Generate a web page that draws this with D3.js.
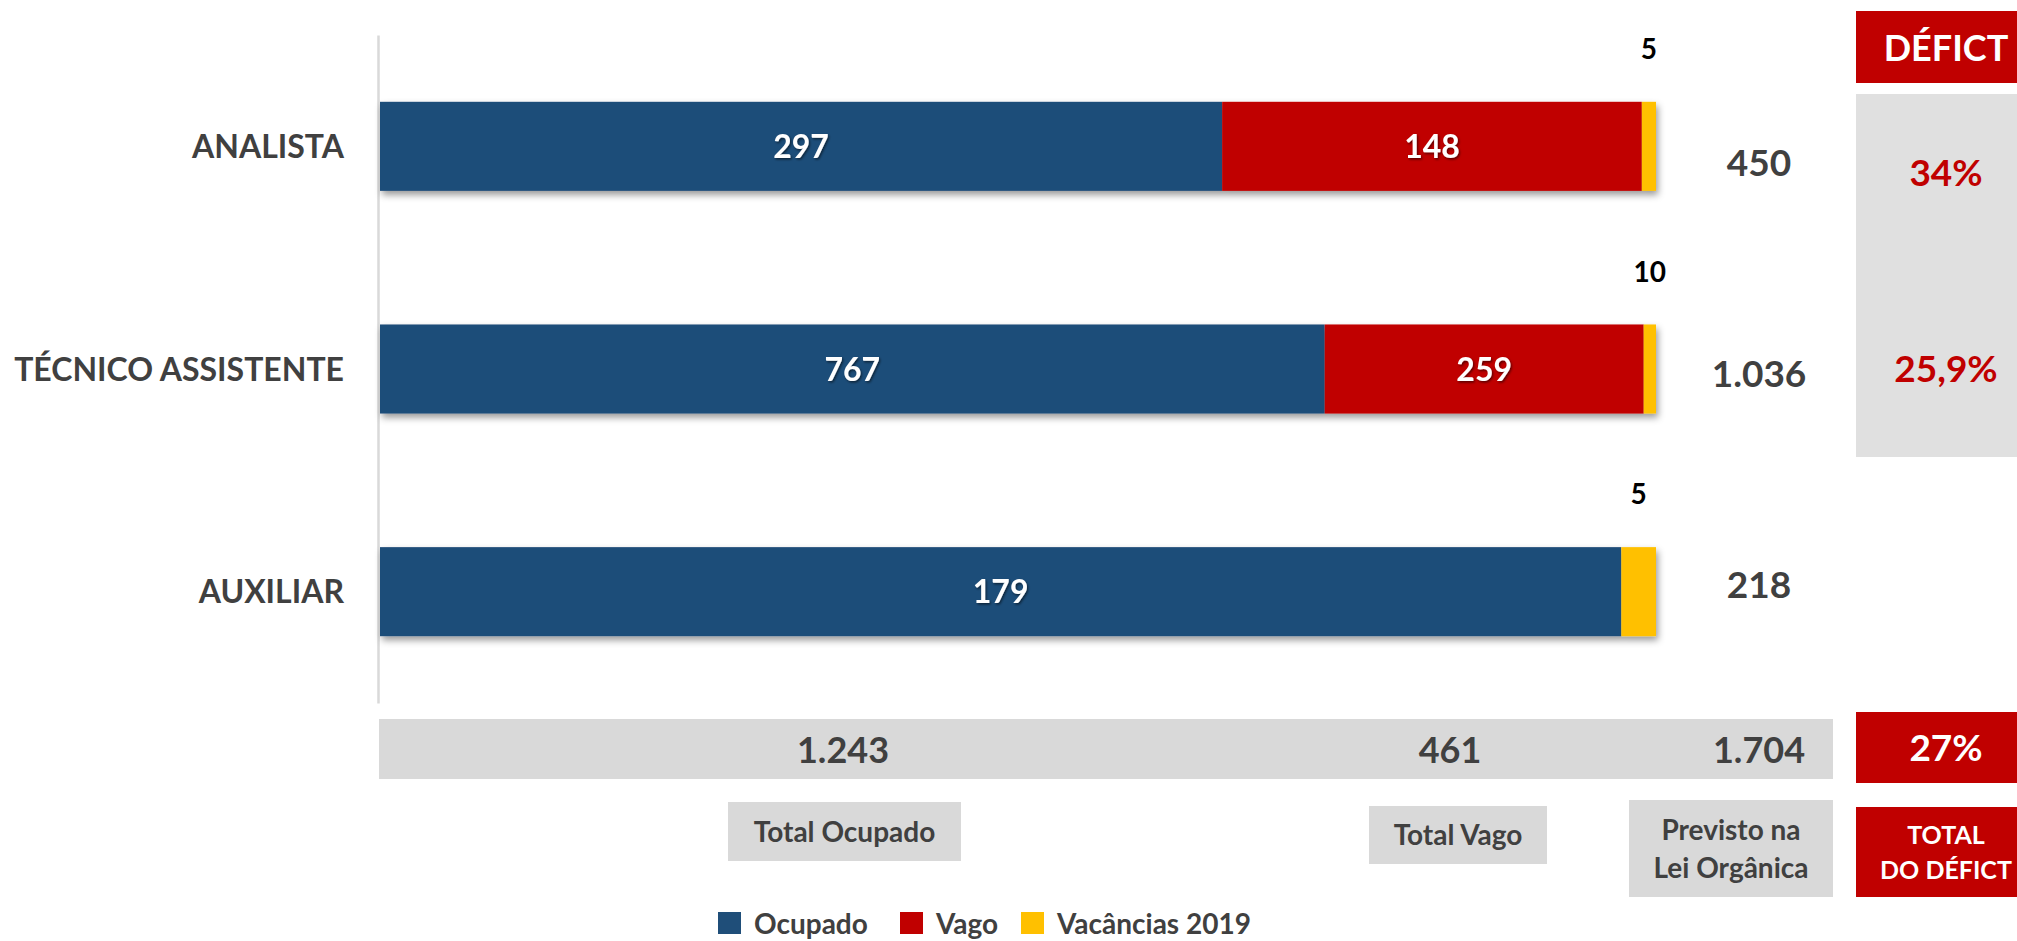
<!DOCTYPE html>
<html><head><meta charset="utf-8">
<script src="https://cdn.jsdelivr.net/npm/d3@7"></script>
<style>
html,body{margin:0;padding:0;background:#fff;}
svg{display:block;font-family:Lato, "Open Sans", sans-serif;font-weight:700;}
</style></head><body>
<svg id="chart" width="2017" height="941"></svg>
<script>
// ---- data ----
const categories = ["ANALISTA", "TÉCNICO ASSISTENTE", "AUXILIAR"];
const seriesNames = ["Ocupado", "Vago", "Vacâncias 2019"];
const ocupado   = [297, 767, 179];
const vago      = [148, 259, 0];
const vacancias = [5, 10, 5];
const previsto  = [450, 1036, 218];
const deficit   = ["34%", "25,9%", null];
const totalLabels = [["Total Ocupado"], ["Total Vago"], ["Previsto na", "Lei Orgânica"]];
const totalValues = [1243, 461, 1704];
const totalDeficit = "27%";
const deficitHeader = "DÉFICT";
const totalDeficitLabel = ["TOTAL", "DO DÉFICT"];
const colors = ["#1F4E79", "#C00000", "#FFC000"];

// ---- setup ----
const svg = d3.select("#chart");
const locale = d3.formatLocale({decimal: ",", thousands: ".", grouping: [3], currency: ["R$", ""]});
const fmt = locale.format(",d");
const textDark = "#404040";

const defs = svg.append("defs");
const barShadow = defs.append("filter").attr("id", "barShadow")
  .attr("x", "-5%").attr("y", "-20%").attr("width", "115%").attr("height", "160%");
barShadow.append("feDropShadow").attr("dx", 2).attr("dy", 4).attr("stdDeviation", 3.5)
  .attr("flood-color", "#000").attr("flood-opacity", 0.4);
const txtShadow = defs.append("filter").attr("id", "txtShadow")
  .attr("x", "-20%").attr("y", "-20%").attr("width", "140%").attr("height", "140%");
txtShadow.append("feDropShadow").attr("dx", 1.2).attr("dy", 1.5).attr("stdDeviation", 1)
  .attr("flood-color", "#000").attr("flood-opacity", 0.55);

const rows = categories.map((c, i) => ({cat: c, [seriesNames[0]]: ocupado[i], [seriesNames[1]]: vago[i], [seriesNames[2]]: vacancias[i]}));
const stacked = d3.stack().keys(seriesNames).offset(d3.stackOffsetExpand)(rows);

const x = d3.scaleLinear().domain([0, 1]).range([380, 1656]);
const y = d3.scaleBand().domain(categories).range([35, 703]).paddingInner(0.6).paddingOuter(0.3);
const yRight = d3.scalePoint().domain(categories).range([163, 585]);
const yDef = d3.scalePoint().domain(categories.slice(0, 2)).range([173, 369]);

// ---- axis ----
const axis = svg.append("g").attr("transform", `translate(${378},0)`)
  .call(d3.axisLeft(y).tickSize(0).tickPadding(34).tickSizeOuter(0));
axis.select(".domain").attr("stroke", "#D9D9D9").attr("stroke-width", 2.5);
axis.selectAll(".tick text").attr("font-size", 32).attr("font-weight", 700)
  .attr("fill", textDark).attr("font-family", "Lato, sans-serif").attr("dy", "0.36em");

// ---- bars ----
const barGroups = svg.append("g").selectAll("g.bar").data(categories).join("g")
  .attr("class", "bar").attr("filter", "url(#barShadow)");
barGroups.each(function(cat, i) {
  const g = d3.select(this);
  stacked.forEach((s, k) => {
    const seg = s[i];
    if (seg[1] - seg[0] <= 0) return;
    g.append("rect").attr("x", x(seg[0])).attr("y", y(cat))
      .attr("width", x(seg[1]) - x(seg[0])).attr("height", y.bandwidth())
      .attr("fill", colors[k]);
  });
});

// segment labels
const labels = svg.append("g");
stacked.forEach((s, k) => {
  s.forEach((seg, i) => {
    const v = seg.data[s.key];
    if (!v) return;
    const cx = (x(seg[0]) + x(seg[1])) / 2;
    if (k < 2) {
      labels.append("text").attr("x", cx).attr("y", y(categories[i]) + y.bandwidth() / 2)
        .attr("dy", "0.36em").attr("text-anchor", "middle").attr("font-size", 32)
        .attr("fill", "#fff").attr("filter", "url(#txtShadow)").text(fmt(v));
    } else {
      labels.append("text").attr("x", cx).attr("y", y(categories[i]) - 53)
        .attr("dy", "0.36em").attr("text-anchor", "middle").attr("font-size", 28)
        .attr("fill", "#000").text(fmt(v));
    }
  });
});

// totals column
svg.append("g").selectAll("text").data(categories).join("text")
  .attr("x", 1759).attr("y", d => yRight(d)).attr("dy", "0.36em")
  .attr("text-anchor", "middle").attr("font-size", 37).attr("fill", textDark)
  .text((d, i) => fmt(previsto[i]));

// deficit column
svg.append("rect").attr("x", 1856).attr("y", 11).attr("width", 180).attr("height", 72).attr("fill", "#C00000");
svg.append("text").attr("x", 1946).attr("y", 48).attr("dy", "0.36em").attr("text-anchor", "middle")
  .attr("font-size", 36).attr("fill", "#fff").text(deficitHeader);
svg.append("rect").attr("x", 1856).attr("y", 94).attr("width", 180).attr("height", 363).attr("fill", "#E0E0E0");
svg.append("g").selectAll("text").data(categories.filter((c, i) => deficit[i])).join("text")
  .attr("x", 1946).attr("y", d => yDef(d)).attr("dy", "0.36em").attr("text-anchor", "middle")
  .attr("font-size", 37).attr("fill", "#C00000")
  .text(d => deficit[categories.indexOf(d)]);

// totals band
svg.append("rect").attr("x", 379).attr("y", 719).attr("width", 1833 - 379).attr("height", 60).attr("fill", "#D9D9D9");
const bandX = [843, 1450, 1759];
svg.append("g").selectAll("text").data(totalValues).join("text")
  .attr("x", (d, i) => bandX[i]).attr("y", 750).attr("dy", "0.36em").attr("text-anchor", "middle")
  .attr("font-size", 36).attr("fill", textDark).text(d => fmt(d));
svg.append("rect").attr("x", 1856).attr("y", 712).attr("width", 180).attr("height", 71).attr("fill", "#C00000");
svg.append("text").attr("x", 1946).attr("y", 748).attr("dy", "0.36em").attr("text-anchor", "middle")
  .attr("font-size", 37).attr("fill", "#fff").text(totalDeficit);

// label boxes
const boxes = [
  {x0: 728, x1: 961, y0: 802, y1: 861},
  {x0: 1369, x1: 1547, y0: 806, y1: 864},
  {x0: 1629, x1: 1833, y0: 800, y1: 897}
];
totalLabels.forEach((lines, i) => {
  const b = boxes[i];
  svg.append("rect").attr("x", b.x0).attr("y", b.y0).attr("width", b.x1 - b.x0).attr("height", b.y1 - b.y0).attr("fill", "#D9D9D9");
  const cy = (b.y0 + b.y1) / 2, lh = 38;
  lines.forEach((t, j) => {
    svg.append("text").attr("x", (b.x0 + b.x1) / 2).attr("y", cy + (j - (lines.length - 1) / 2) * lh)
      .attr("dy", "0.36em").attr("text-anchor", "middle").attr("font-size", 28).attr("fill", textDark).text(t);
  });
});
svg.append("rect").attr("x", 1856).attr("y", 807).attr("width", 180).attr("height", 90).attr("fill", "#C00000");
totalDeficitLabel.forEach((t, j) => {
  svg.append("text").attr("x", 1946).attr("y", 835 + j * 35).attr("dy", "0.36em").attr("text-anchor", "middle")
    .attr("font-size", 25).attr("fill", "#fff").text(t);
});

// legend
const legX = [718, 900, 1021];
const leg = svg.append("g").selectAll("g").data(seriesNames).join("g")
  .attr("transform", (d, i) => `translate(${legX[i]},912)`);
leg.append("rect").attr("width", 23).attr("height", 22).attr("fill", (d, i) => colors[i]);
leg.append("text").attr("x", 36).attr("y", 12).attr("dy", "0.36em").attr("font-size", 28)
  .attr("fill", textDark).text(d => d);
</script>
</body></html>
